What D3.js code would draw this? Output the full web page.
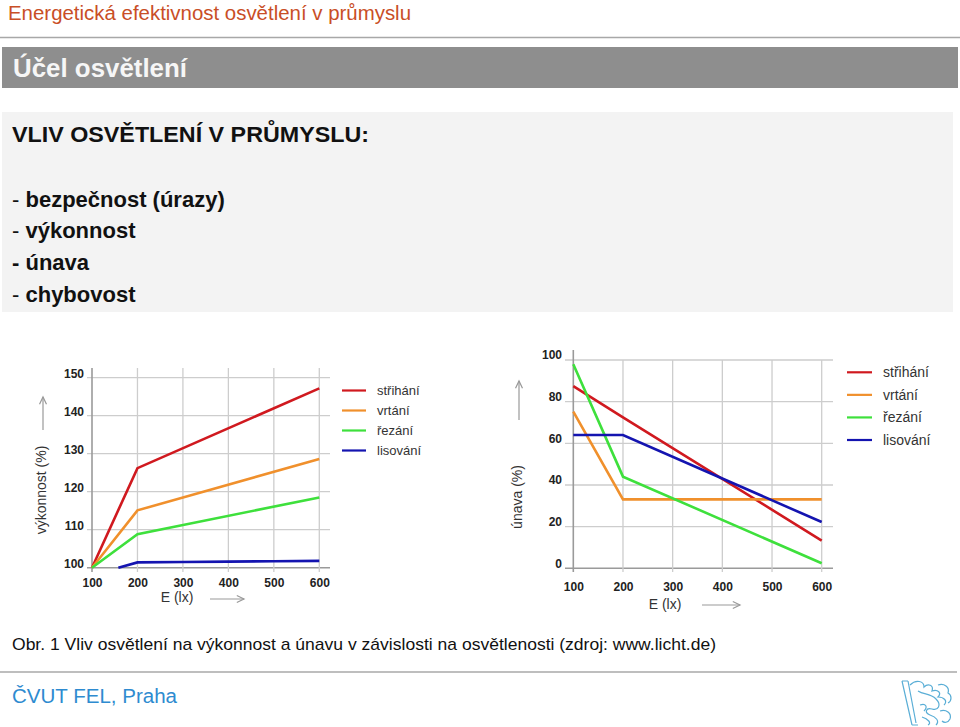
<!DOCTYPE html>
<html><head><meta charset="utf-8">
<script src="https://cdn.jsdelivr.net/npm/d3@7"></script>
<style>
html,body{margin:0;padding:0;background:#fff;}
svg{display:block;font-family:"Liberation Sans",Arial,sans-serif;}
</style></head>
<body>
<svg id="c" width="960" height="727"></svg>
<script>
// ---------- data ----------
const xTicks = [100, 200, 300, 400, 500, 600];
const perfTicks = [100, 110, 120, 130, 140, 150];
const fatigueTicks = [0, 20, 40, 60, 80, 100];
const seriesNames = ["střihání", "vrtání", "řezání", "lisování"];
const seriesColors = ["#d0191f", "#f0902c", "#3ee03c", "#1414b0"];

// výkonnost (%) vs E (lx)
const perfStrihani = [[100, 100], [200, 126.2], [600, 147.2]];
const perfVrtani   = [[100, 100], [200, 115.1], [600, 128.6]];
const perfRezani   = [[100, 100], [200, 108.8], [600, 118.5]];
const perfLisovani = [[158, 100], [200, 101.4], [300, 101.5], [400, 101.6], [500, 101.7], [600, 101.8]];

// únava (%) vs E (lx)
const fatStrihani = [[100, 87.5], [200, 72.5], [600, 13.3]];
const fatVrtani   = [[100, 75.2], [200, 33.1], [600, 33.1]];
const fatRezani   = [[100, 98], [200, 44], [600, 2.4]];
const fatLisovani = [[100, 64], [200, 64], [600, 22.2]];

const bulletItems = ["bezpečnost (úrazy)", "výkonnost", "únava", "chybovost"];

// ---------- drawing ----------
const svg = d3.select("#c");
const FONT = '"Liberation Sans",Arial,sans-serif';

// header
svg.append("text").attr("x", 8).attr("y", 19.5).attr("font-size", 20)
  .attr("fill", "#c94e26").attr("textLength", 403).attr("lengthAdjust", "spacingAndGlyphs")
  .text("Energetická efektivnost osvětlení v průmyslu");
svg.append("line").attr("x1", 0).attr("x2", 960).attr("y1", 37.5).attr("y2", 37.5)
  .attr("stroke", "#a8a8a8").attr("stroke-width", 1.5);
svg.append("rect").attr("x", 2).attr("y", 47).attr("width", 956).attr("height", 41).attr("fill", "#8e8e8e");
svg.append("text").attr("x", 13).attr("y", 77).attr("font-size", 26).attr("font-weight", "bold")
  .attr("fill", "#f6f6f6").attr("textLength", 174).attr("lengthAdjust", "spacingAndGlyphs")
  .text("Účel osvětlení");

// bullet box
svg.append("rect").attr("x", 2).attr("y", 112).attr("width", 951).attr("height", 200).attr("fill", "#f3f3f3");
svg.append("text").attr("x", 12).attr("y", 141.5).attr("font-size", 22).attr("font-weight", "bold")
  .attr("fill", "#111").attr("textLength", 357).attr("lengthAdjust", "spacingAndGlyphs")
  .text("VLIV OSVĚTLENÍ V PRŮMYSLU:");
const bulletY = d3.scaleLinear().domain([0, 3]).range([206.5, 301.5]);
bulletItems.forEach((t, i) => {
  const tx = svg.append("text").attr("x", 12).attr("y", bulletY(i)).attr("font-size", 22).attr("fill", "#111");
  tx.append("tspan").attr("font-weight", i === 2 ? "bold" : "normal").text("- ");
  tx.append("tspan").attr("font-weight", "bold").text(t);
});

// arrow helper
function arrow(g, x1, y1, x2, y2) {
  const a = Math.atan2(y2 - y1, x2 - x1), L = 8, w = 0.45;
  g.append("line").attr("x1", x1).attr("y1", y1).attr("x2", x2).attr("y2", y2)
    .attr("stroke", "#999").attr("stroke-width", 1.2);
  g.append("path").attr("d",
    `M${x2 - L * Math.cos(a - w)},${y2 - L * Math.sin(a - w)}L${x2},${y2}L${x2 - L * Math.cos(a + w)},${y2 - L * Math.sin(a + w)}`)
    .attr("fill", "none").attr("stroke", "#999").attr("stroke-width", 1.2);
}

function chart(cfg) {
  const g = svg.append("g");
  const x = d3.scaleLinear().domain([100, 600]).range(cfg.xr);
  const y = d3.scaleLinear().domain(cfg.yd).range(cfg.yr);
  // grid
  g.selectAll(".hg").data(cfg.yTicks).enter().append("line")
    .attr("x1", cfg.gx[0]).attr("x2", cfg.gx[1]).attr("y1", d => y(d)).attr("y2", d => y(d))
    .attr("stroke", d => d === cfg.yd[0] ? "#9a9a9a" : "#cdcdcd").attr("stroke-width", d => d === cfg.yd[0] ? 1.6 : 1.3);
  g.selectAll(".vg").data(xTicks.slice(1)).enter().append("line")
    .attr("y1", cfg.gy[0]).attr("y2", cfg.gy[1]).attr("x1", d => x(d)).attr("x2", d => x(d))
    .attr("stroke", "#cdcdcd").attr("stroke-width", 1.3);
  g.append("line").attr("x1", x(100)).attr("x2", x(100)).attr("y1", cfg.axTop).attr("y2", cfg.gy[1])
    .attr("stroke", "#9a9a9a").attr("stroke-width", 1.6);
  // y axis labels via d3 axis
  const ya = g.append("g").attr("transform", `translate(${cfg.yLabX},0)`)
    .call(d3.axisLeft(y).tickValues(cfg.yTicks).tickSize(0).tickPadding(0));
  ya.select(".domain").remove();
  ya.selectAll("text").attr("font-family", FONT).attr("font-size", 12).attr("font-weight", "bold")
    .attr("fill", "#222").attr("dy", cfg.yLabDy);
  const xa = g.append("g").attr("transform", `translate(0,${cfg.xLabY})`)
    .call(d3.axisBottom(x).tickValues(xTicks).tickSize(0).tickPadding(0).tickFormat(d3.format("d")));
  xa.select(".domain").remove();
  xa.selectAll("text").attr("font-family", FONT).attr("font-size", 12).attr("font-weight", "bold")
    .attr("fill", "#222").attr("dy", "0.35em");
  // lines
  const line = d3.line().x(d => x(d[0])).y(d => y(d[1]));
  cfg.series.forEach((s, i) => {
    g.append("path").attr("d", line(s)).attr("fill", "none").attr("stroke", seriesColors[i])
      .attr("stroke-width", 2.6).attr("stroke-linejoin", "miter");
  });
  // axis titles
  g.append("text").attr("x", cfg.xTitle[0]).attr("y", cfg.xTitle[1]).attr("text-anchor", "middle")
    .attr("font-size", 14).attr("fill", "#333").text("E (lx)");
  arrow(g, cfg.xArrow[0], cfg.xArrow[2], cfg.xArrow[1], cfg.xArrow[2]);
  g.append("text").attr("transform", `translate(${cfg.yTitle[0]},${cfg.yTitle[1]}) rotate(-90)`)
    .attr("text-anchor", "middle").attr("font-size", 14).attr("fill", "#333").text(cfg.yTitleText);
  arrow(g, cfg.yArrow[0], cfg.yArrow[1], cfg.yArrow[0], cfg.yArrow[2]);
  // legend
  const ly = d3.scaleLinear().domain([0, 3]).range(cfg.legY);
  seriesNames.forEach((n, i) => {
    g.append("line").attr("x1", cfg.legX[0]).attr("x2", cfg.legX[1]).attr("y1", ly(i)).attr("y2", ly(i))
      .attr("stroke", seriesColors[i]).attr("stroke-width", 2.2);
    g.append("text").attr("x", cfg.legX[2]).attr("y", ly(i)).attr("dy", "0.35em")
      .attr("font-size", cfg.legFont).attr("fill", "#333").text(n);
  });
}

chart({
  xr: [92, 319.3], yd: [100, 150], yr: [567.7, 377.7], yTicks: perfTicks,
  gx: [87, 330], gy: [368, 572], axTop: 368, yLabX: 84, yLabDy: "-0.05em", xLabY: 583,
  series: [perfStrihani, perfVrtani, perfRezani, perfLisovani],
  xTitle: [177, 602], xArrow: [210, 244, 599],
  yTitle: [46, 490], yTitleText: "výkonnost (%)", yArrow: [43, 430, 397],
  legX: [342, 366, 377], legY: [390.5, 450.5], legFont: 13
});
chart({
  xr: [573.3, 821.7], yd: [0, 100], yr: [568.3, 360], yTicks: fatigueTicks,
  gx: [565, 833], gy: [360, 572], axTop: 350, yLabX: 562, yLabDy: "-0.1em", xLabY: 586.5,
  series: [fatStrihani, fatVrtani, fatRezani, fatLisovani],
  xTitle: [665, 609], xArrow: [702, 740, 605],
  yTitle: [522, 497], yTitleText: "únava (%)", yArrow: [519, 420, 381],
  legX: [847, 872, 883], legY: [372.3, 440], legFont: 14
});

// caption
svg.append("text").attr("x", 12).attr("y", 650).attr("font-size", 17).attr("fill", "#111")
  .attr("textLength", 704).attr("lengthAdjust", "spacingAndGlyphs")
  .text("Obr. 1 Vliv osvětlení na výkonnost a únavu v závislosti na osvětlenosti (zdroj: www.licht.de)");

// footer
svg.append("line").attr("x1", 0).attr("x2", 957).attr("y1", 672).attr("y2", 672)
  .attr("stroke", "#a8a8a8").attr("stroke-width", 1.5);
svg.append("text").attr("x", 12).attr("y", 703).attr("font-size", 20).attr("fill", "#2e8bd0")
  .attr("textLength", 165).attr("lengthAdjust", "spacingAndGlyphs").text("ČVUT FEL, Praha");

// logo (stylised lion outline)
const logo = svg.append("g").attr("transform", "translate(898,677)")
  .attr("fill", "none").attr("stroke", "#5aaed6").attr("stroke-width", 1.2);
logo.append("path").attr("d", "M4,4 L14,48 M10,4 L18,46 M4,4 L10,4 M14,48 L20,48");
logo.append("path").attr("d", "M12,8 C18,2 26,4 26,10 C30,6 36,8 34,14 C40,12 44,16 40,20 C46,20 50,24 46,28");
logo.append("path").attr("d", "M20,14 C26,18 32,16 38,22 C44,28 40,34 34,32 C28,30 26,36 32,38 C38,40 42,44 38,48");
logo.append("path").attr("d", "M40,8 C46,6 52,10 50,16 C54,18 54,24 50,26 M22,28 C28,26 30,30 26,34 M24,40 C30,42 34,46 30,48");
logo.append("path").attr("d", "M42,34 C48,32 54,36 52,42 C50,46 46,46 44,44");
</script>
</body></html>
